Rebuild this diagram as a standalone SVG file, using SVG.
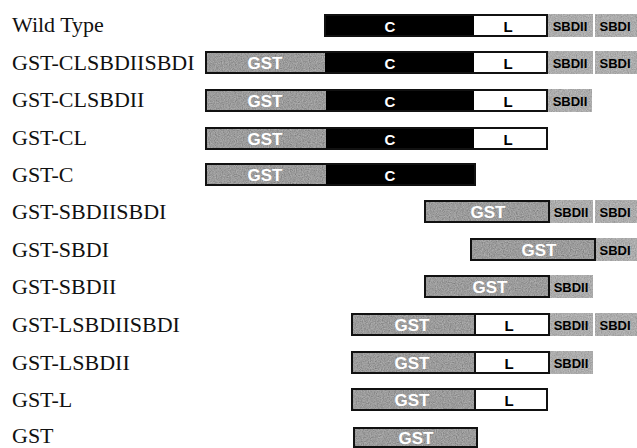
<svg xmlns="http://www.w3.org/2000/svg" width="637" height="448" viewBox="0 0 637 448">
<defs>
<filter id="grain" x="0" y="0" width="100%" height="100%">
<feTurbulence type="fractalNoise" baseFrequency="0.85" numOctaves="2" seed="4" result="n"/>
<feColorMatrix in="n" type="matrix" values="1 0 0 0 0  1 0 0 0 0  1 0 0 0 0  0 0 0 0 1" result="g"/>
<feComposite in="SourceGraphic" in2="g" operator="arithmetic" k1="0" k2="1" k3="0.35" k4="-0.17" result="m"/>
<feComposite in="m" in2="SourceGraphic" operator="in"/>
</filter>
</defs>
<style>
.lbl{font-family:"Liberation Serif","Times New Roman",serif;font-size:22px;fill:#111}
.gst{fill:#9a9a9a;filter:url(#grain)}
.sbd{fill:#ababab;filter:url(#grain)}
.blk{fill:#000}
.wht{fill:#fff}
.out{fill:none;stroke:#111;stroke-width:2}
.sep{stroke:#111;stroke-width:2}
.t{font-family:"Liberation Sans",Arial,sans-serif;font-weight:bold;text-anchor:middle}
.tc{font-size:15px;fill:#fff}
.tl{font-size:15px;fill:#000}
.tg{font-size:17px;fill:#fff}
.ts{font-size:13px;fill:#000}
</style>
<rect width="637" height="448" fill="#fff"/>

<g id="wild-type">
<text class="lbl" x="12" y="32">Wild Type</text>
<rect class="blk" x="325" y="15" width="149" height="21"/>
<rect class="wht" x="474" y="15" width="73" height="21"/>
<rect class="out" x="325" y="15" width="222" height="21"/>
<rect class="sbd" x="548" y="14" width="45" height="23"/>
<rect class="sbd" x="595" y="14" width="42" height="23"/>
<text class="t tc" x="390" y="31.5">C</text>
<text class="t tl" x="508" y="32">L</text>
<text class="t ts" x="570" y="30.5">SBDII</text>
<text class="t ts" x="615" y="30.5">SBDI</text>
</g>

<g id="gst-clsbdiisbdi">
<text class="lbl" x="12" y="69.5">GST-CLSBDIISBDI</text>
<rect class="gst" x="206" y="52" width="119" height="21"/>
<rect class="blk" x="325" y="52" width="149" height="21"/>
<rect class="wht" x="474" y="52" width="73" height="21"/>
<rect class="out" x="206" y="52" width="341" height="21"/>
<rect class="sbd" x="548" y="51" width="45" height="23"/>
<rect class="sbd" x="595" y="51" width="42" height="23"/>
<text class="t tg" x="265" y="68.5">GST</text>
<text class="t tc" x="390" y="68.5">C</text>
<text class="t tl" x="508" y="69">L</text>
<text class="t ts" x="570" y="67.5">SBDII</text>
<text class="t ts" x="615" y="67.5">SBDI</text>
</g>

<g id="gst-clsbdii">
<text class="lbl" x="12" y="107">GST-CLSBDII</text>
<rect class="gst" x="206" y="90" width="120" height="21"/>
<rect class="blk" x="326" y="90" width="148" height="21"/>
<rect class="wht" x="474" y="90" width="73" height="21"/>
<rect class="out" x="206" y="90" width="341" height="21"/>
<rect class="sbd" x="548" y="89" width="44" height="23"/>
<text class="t tg" x="265" y="106.5">GST</text>
<text class="t tc" x="390" y="106.5">C</text>
<text class="t tl" x="508" y="107">L</text>
<text class="t ts" x="570" y="105.5">SBDII</text>
</g>

<g id="gst-cl">
<text class="lbl" x="12" y="145">GST-CL</text>
<rect class="gst" x="206" y="128" width="120" height="21"/>
<rect class="blk" x="326" y="128" width="148" height="21"/>
<rect class="wht" x="474" y="128" width="73" height="21"/>
<rect class="out" x="206" y="128" width="341" height="21"/>
<text class="t tg" x="265" y="144.5">GST</text>
<text class="t tc" x="390" y="144.5">C</text>
<text class="t tl" x="508" y="145">L</text>
</g>

<g id="gst-c">
<text class="lbl" x="12" y="182">GST-C</text>
<rect class="gst" x="206" y="164" width="120" height="21"/>
<rect class="blk" x="326" y="164" width="149" height="21"/>
<rect class="out" x="206" y="164" width="269" height="21"/>
<text class="t tg" x="265" y="180.5">GST</text>
<text class="t tc" x="390" y="180.5">C</text>
</g>

<g id="gst-sbdiisbdi">
<text class="lbl" x="12" y="219">GST-SBDIISBDI</text>
<rect class="gst" x="425" y="201" width="124" height="21"/>
<rect class="out" x="425" y="201" width="124" height="21"/>
<rect class="sbd" x="550" y="200" width="43" height="23"/>
<rect class="sbd" x="595" y="200" width="42" height="23"/>
<text class="t tg" x="488" y="217.5">GST</text>
<text class="t ts" x="571" y="216.5">SBDII</text>
<text class="t ts" x="615" y="216.5">SBDI</text>
</g>

<g id="gst-sbdi">
<text class="lbl" x="12" y="257">GST-SBDI</text>
<rect class="gst" x="471" y="239" width="124" height="21"/>
<rect class="out" x="471" y="239" width="124" height="21"/>
<rect class="sbd" x="596" y="238" width="41" height="23"/>
<text class="t tg" x="539" y="255.5">GST</text>
<text class="t ts" x="615" y="254.5">SBDI</text>
</g>

<g id="gst-sbdii">
<text class="lbl" x="12" y="294">GST-SBDII</text>
<rect class="gst" x="425" y="276" width="124" height="21"/>
<rect class="out" x="425" y="276" width="124" height="21"/>
<rect class="sbd" x="550" y="275" width="43" height="23"/>
<text class="t tg" x="490" y="292.5">GST</text>
<text class="t ts" x="571" y="291.5">SBDII</text>
</g>

<g id="gst-lsbdiisbdi">
<text class="lbl" x="12" y="332">GST-LSBDIISBDI</text>
<rect class="gst" x="352" y="314" width="123" height="21"/>
<rect class="wht" x="475" y="314" width="74" height="21"/>
<rect class="out" x="352" y="314" width="197" height="21"/>
<line class="sep" x1="475" y1="314" x2="475" y2="335"/>
<rect class="sbd" x="550" y="313" width="43" height="23"/>
<rect class="sbd" x="595" y="313" width="42" height="23"/>
<text class="t tg" x="412" y="330.5">GST</text>
<text class="t tl" x="509" y="331">L</text>
<text class="t ts" x="571" y="329.5">SBDII</text>
<text class="t ts" x="615" y="329.5">SBDI</text>
</g>

<g id="gst-lsbdii">
<text class="lbl" x="12" y="369.5">GST-LSBDII</text>
<rect class="gst" x="352" y="352" width="123" height="21"/>
<rect class="wht" x="475" y="352" width="74" height="21"/>
<rect class="out" x="352" y="352" width="197" height="21"/>
<line class="sep" x1="475" y1="352" x2="475" y2="373"/>
<rect class="sbd" x="550" y="351" width="43" height="23"/>
<text class="t tg" x="412" y="368.5">GST</text>
<text class="t tl" x="509" y="369">L</text>
<text class="t ts" x="571" y="367.5">SBDII</text>
</g>

<g id="gst-l">
<text class="lbl" x="12" y="407">GST-L</text>
<rect class="gst" x="352" y="389" width="123" height="21"/>
<rect class="wht" x="475" y="389" width="72" height="21"/>
<rect class="out" x="352" y="389" width="195" height="21"/>
<line class="sep" x1="475" y1="389" x2="475" y2="410"/>
<text class="t tg" x="412" y="405.5">GST</text>
<text class="t tl" x="509" y="406">L</text>
</g>

<g id="gst">
<text class="lbl" x="12" y="443">GST</text>
<rect class="gst" x="354" y="428" width="123" height="19"/>
<rect class="out" x="354" y="428" width="123" height="19"/>
<text class="t tg" x="416" y="444">GST</text>
</g>
</svg>
